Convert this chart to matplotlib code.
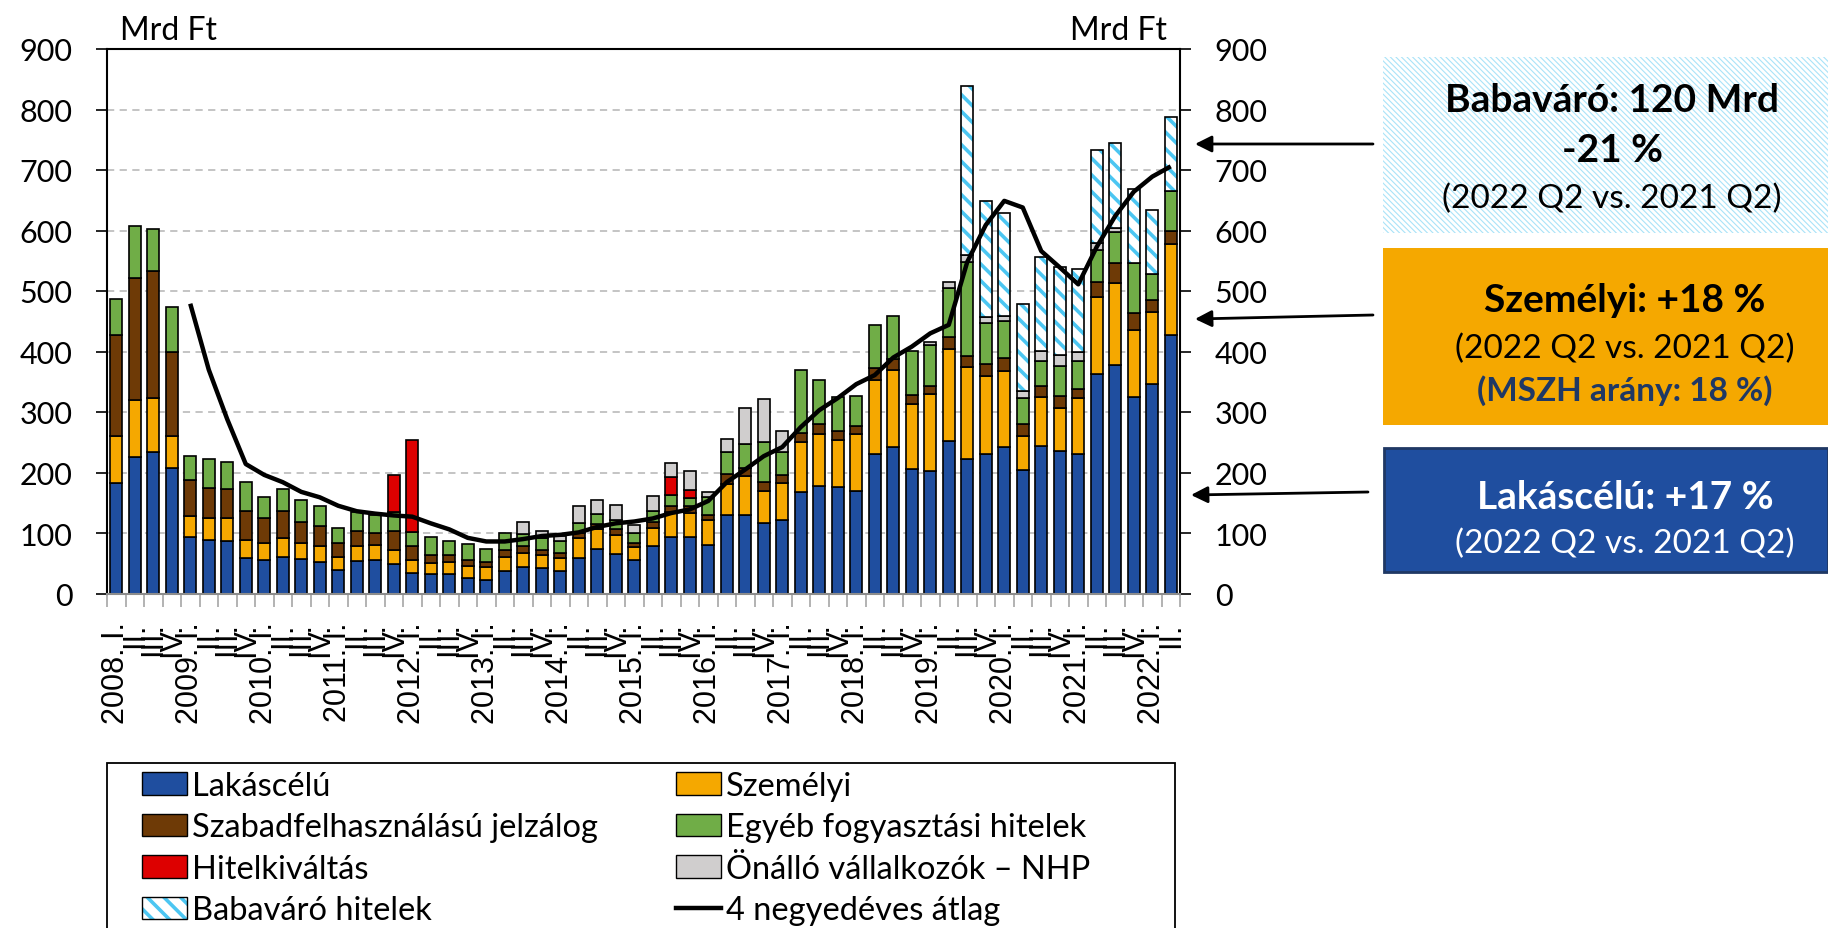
import numpy as np
import matplotlib.pyplot as plt
from matplotlib.patches import Patch, Rectangle
from matplotlib.lines import Line2D

plt.rcParams['font.family'] = ['Lato', 'DejaVu Sans']
plt.rcParams['hatch.linewidth'] = 2.6

# negyedéves hitelkibocsátás, Mrd Ft (2008 I. - 2022 II.)
years = list(range(2008, 2023))
romans = ['I.', 'II.', 'III.', 'IV.']
quarters = []
for y in years:
    for i, r in enumerate(romans):
        quarters.append(f'{y}. {r}' if i == 0 else r)
quarters = quarters[:58]

lakas = [182, 225, 234, 207, 93, 88, 86, 58, 55, 61, 57, 52, 39, 54, 56, 49,
         34, 32, 32, 26, 23, 37, 43, 42, 37, 59, 73, 66, 55, 78, 94, 94,
         80, 129, 130, 116, 122, 167, 178, 176, 170, 231, 242, 205, 202, 252, 222, 231,
         242, 204, 243, 236, 231, 363, 378, 324, 347, 427]
szemelyi = [78, 95, 89, 53, 35, 37, 38, 30, 28, 30, 27, 26, 22, 24, 24, 23,
            21, 19, 20, 19, 20, 23, 24, 21, 22, 32, 33, 30, 22, 31, 41, 39,
            41, 52, 64, 54, 60, 83, 86, 78, 93, 122, 127, 109, 127, 152, 153, 128,
            125, 56, 81, 71, 92, 127, 136, 112, 118, 150]
szabad = [167, 202, 210, 139, 59, 49, 49, 49, 41, 45, 35, 33, 23, 26, 20, 31,
          23, 13, 12, 10, 9, 12, 11, 9, 8, 9, 9, 10, 7, 9, 9, 11,
          9, 17, 14, 14, 14, 15, 16, 14, 14, 20, 18, 14, 14, 20, 17, 21,
          23, 20, 19, 19, 15, 25, 32, 27, 20, 23]
egyeb = [60, 85, 69, 75, 41, 48, 44, 48, 35, 37, 35, 33, 25, 31, 30, 32,
         23, 29, 23, 26, 21, 28, 20, 20, 19, 16, 17, 16, 16, 18, 18, 14,
         29, 36, 39, 67, 38, 104, 73, 56, 49, 71, 72, 73, 67, 81, 156, 67,
         60, 43, 41, 50, 46, 52, 51, 83, 43, 66]
hitelkivaltas = [0] * 15 + [61, 153] + [0] * 13 + [31, 13] + [0] * 26
nhp = ([0] * 22 + [20, 11, 9, 28, 23, 24, 13, 25, 22, 31, 8, 22, 60, 70, 34]
       + [0] * 7 + [6, 10, 11, 10, 8, 12, 17, 18, 15, 13, 7] + [0] * 3)
babavaro = [0] * 46 + [280, 192, 171, 144, 155, 146, 137, 153, 140, 123, 106, 121]
atlag = [np.nan] * 4 + [479, 370, 288, 214, 196, 184, 168, 159, 145, 136, 132, 129,
                        127, 116, 106, 92, 86, 86, 90, 95, 97, 101, 110, 116,
                        119, 124, 133, 139, 153, 184, 205, 227, 242, 275, 303, 323,
                        346, 361, 390, 408, 430, 444, 548, 609, 649, 638, 566, 539,
                        511, 573, 624, 664, 689, 706]

c_blue = '#1F4E9F'
c_orange = '#F5A800'
c_brown = '#6E3A06'
c_green = '#70AD47'
c_red = '#DD0000'
c_grey = '#D0CECE'
c_stripe = '#4CC6F2'

W, H = 1828, 929
fig = plt.figure(figsize=(W / 100, H / 100), dpi=100)
ax = fig.add_axes([107 / W, 1 - 594.5 / H, (1180 - 107) / W, (594.5 - 50) / H])

x = np.arange(len(quarters))
bottom = np.zeros(len(x))
for vals, col in [(lakas, c_blue), (szemelyi, c_orange), (szabad, c_brown),
                  (egyeb, c_green), (hitelkivaltas, c_red), (nhp, c_grey)]:
    v = np.array(vals, dtype=float)
    m = v > 0
    ax.bar(x[m], v[m], bottom=bottom[m], width=0.66, color=col,
           edgecolor='black', linewidth=1.2, zorder=2)
    bottom += v

b = np.array(babavaro, dtype=float)
m = b > 0
ax.bar(x[m], b[m], bottom=bottom[m], width=0.66, color='white',
       edgecolor=c_stripe, hatch='\\\\', linewidth=0, zorder=2)
ax.bar(x[m], b[m], bottom=bottom[m], width=0.66, facecolor='none',
       edgecolor='black', linewidth=1.2, zorder=2)

ax.plot(x, atlag, color='black', lw=3.2, zorder=4, solid_capstyle='butt')

ax.set_xlim(-0.5, len(x) - 0.5)
ax.set_ylim(0, 900)
ax.set_yticks(range(0, 1000, 100))
ax.yaxis.grid(True, color='#BFBFBF', linestyle=(0, (4, 3)), lw=1.3)
ax.set_axisbelow(True)
ax.tick_params(axis='y', direction='out', length=8, width=1.2, labelsize=22, pad=17,
               left=True, right=True, labelleft=True, labelright=True)

ax.set_xticks(np.arange(-0.5, len(x), 1))
ax.set_xticks(x, minor=True)
ax.set_xticklabels(quarters, minor=True, rotation=90, fontsize=22,
                   family=['Liberation Sans', 'DejaVu Sans'])
ax.tick_params(axis='x', which='major', length=9, width=1.2, color='#A6A6A6',
               labelbottom=False)
ax.tick_params(axis='x', which='minor', length=0, pad=20)

for s in ['left', 'right', 'top']:
    ax.spines[s].set_color('black')
    ax.spines[s].set_linewidth(1.5)
ax.spines['bottom'].set_color('#8C8C8C')
ax.spines['bottom'].set_linewidth(1.5)

fig.text(120 / W, 1 - 40 / H, 'Mrd Ft', fontsize=23, va='baseline', ha='left')
fig.text(1167 / W, 1 - 40 / H, 'Mrd Ft', fontsize=23, va='baseline', ha='right')

# jelmagyarázat
fig.add_artist(Rectangle((107 / W, 1 - 945 / H), (1175 - 107) / W, (945 - 764) / H,
                         transform=fig.transFigure, facecolor='none',
                         edgecolor='black', lw=1.3))
handles = [Patch(facecolor=c_blue, edgecolor='black'),
           Patch(facecolor=c_brown, edgecolor='black'),
           Patch(facecolor=c_red, edgecolor='black'),
           (Patch(facecolor='white', edgecolor=c_stripe, hatch='\\\\', lw=0),
            Patch(facecolor='none', edgecolor='black')),
           Patch(facecolor=c_orange, edgecolor='black'),
           Patch(facecolor=c_green, edgecolor='black'),
           Patch(facecolor=c_grey, edgecolor='black'),
           Line2D([], [], color='black', lw=3.2)]
labels = ['Lakáscélú', 'Szabadfelhasználású jelzálog', 'Hitelkiváltás', 'Babaváró hitelek',
          'Személyi', 'Egyéb fogyasztási hitelek', 'Önálló vállalkozók – NHP',
          '4 negyedéves átlag']
fig.legend(handles, labels, ncol=2, loc='upper left',
           bbox_to_anchor=(142 / W, 1 - 772 / H), frameon=False, fontsize=23.5,
           handlelength=1.38, handleheight=0.68, handletextpad=0.15,
           columnspacing=2.4, labelspacing=0.35, borderpad=0, borderaxespad=0)

# szöveges dobozok
box1 = Rectangle((1383 / W, 1 - 234 / H), (W - 1383) / W, (234 - 58) / H,
                 transform=fig.transFigure, facecolor='white', edgecolor='#A9E3F8',
                 hatch='\\\\\\\\\\\\', lw=0)
if hasattr(box1, 'set_hatch_linewidth'):
    box1.set_hatch_linewidth(0.8)
else:
    box1.set_hatch(None)
    box1.set_facecolor('#DDF3FB')
fig.add_artist(box1)
fig.add_artist(Rectangle((1383 / W, 1 - 426 / H), (W - 1383) / W, (426 - 249) / H,
                         transform=fig.transFigure, facecolor=c_orange, lw=0))
fig.add_artist(Rectangle((1384 / W, 1 - 573 / H), (W - 1384) / W, (573 - 449) / H,
                         transform=fig.transFigure, facecolor=c_blue,
                         edgecolor='#1F3864', lw=2))

def t(xp, yp, s, **kw):
    fig.text(xp / W, 1 - yp / H, s, ha='center', va='center', **kw)

t(1612, 100, 'Babaváró: 120 Mrd', fontsize=28, fontweight='bold')
t(1612, 150, '-21 %', fontsize=28, fontweight='bold')
t(1612, 199, '(2022 Q2 vs. 2021 Q2)', fontsize=24)
t(1625, 300, 'Személyi: +18 %', fontsize=28, fontweight='bold')
t(1625, 349, '(2022 Q2 vs. 2021 Q2)', fontsize=24)
t(1625, 391, '(MSZH arány: 18 %)', fontsize=24, fontweight='bold', color='#1F3864')
t(1625, 498, 'Lakáscélú: +17 %', fontsize=28, fontweight='bold', color='white')
t(1625, 544, '(2022 Q2 vs. 2021 Q2)', fontsize=24, color='white')

for tail, head in [((1373, 145), (1195, 145)), ((1373, 316), (1195, 320)),
                   ((1368, 493), (1191, 496))]:
    ax.annotate('', xy=(head[0], H - head[1]), xytext=(tail[0], H - tail[1]),
                xycoords='figure pixels', textcoords='figure pixels',
                arrowprops=dict(arrowstyle='-|>', lw=2, color='black',
                                mutation_scale=25, shrinkA=0, shrinkB=0),
                annotation_clip=False)

fig.savefig('out.png', dpi=100)
